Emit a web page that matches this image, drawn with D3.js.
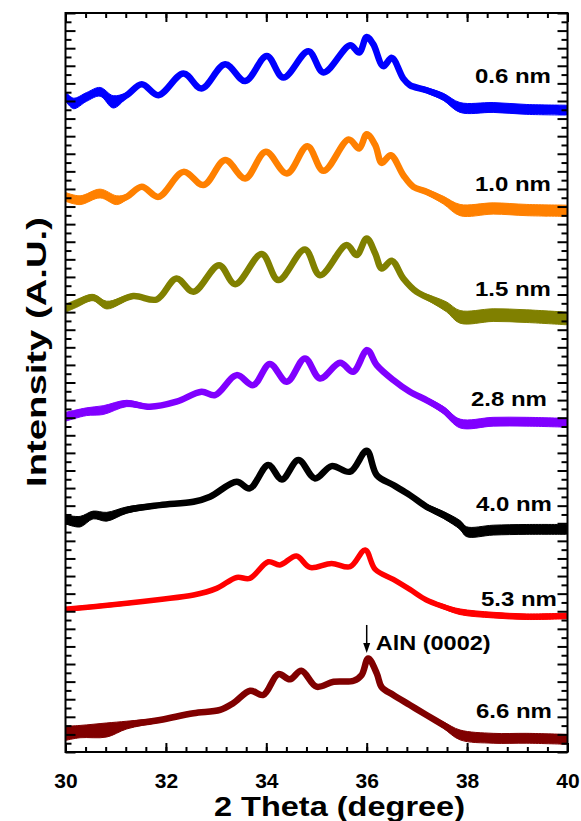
<!DOCTYPE html>
<html>
<head>
<meta charset="utf-8">
<script src="https://cdn.jsdelivr.net/npm/d3@7"></script>
<style>
  html, body { margin: 0; padding: 0; background: #fff; }
  svg text { font-family: "Liberation Sans", Arial, sans-serif; font-weight: bold; fill: #000; }
</style>
</head>
<body>
<div id="chart"></div>
<script>
// XRD scans, each point is [2theta, intensity (A.U., stacked), noise half-width]
const thicknesses = ["0.6 nm", "1.0 nm", "1.5 nm", "2.8 nm", "4.0 nm", "5.3 nm", "6.6 nm"];
const colors = ["#0000ff", "#ff8000", "#808000", "#8000ff", "#000000", "#ff0000", "#800000"];

const scan06 = [
  [30.0, 37.27, 0.25], [30.16, 36.86, 0.3], [30.42, 37.23, 0.25], [30.69, 37.52, 0.25], [30.95, 36.95, 0.35],
  [31.22, 37.33, 0.15], [31.52, 37.95, 0.05], [31.85, 37.33, 0.05], [32.35, 38.56, 0], [32.71, 37.71, 0],
  [33.18, 39.09, 0], [33.58, 38.13, 0], [34.01, 39.55, 0], [34.34, 38.33, 0], [34.84, 39.83, 0],
  [35.14, 38.62, 0], [35.67, 40.17, 0], [35.85, 39.75, 0], [36.0, 40.64, 0.05], [36.13, 40.23, 0],
  [36.33, 38.98, 0], [36.5, 39.45, 0], [36.73, 38.27, 0.05], [36.86, 37.9, 0.1], [37.19, 37.61, 0.15],
  [37.53, 37.23, 0.2], [37.86, 36.63, 0.28], [38.52, 36.63, 0.28], [39.19, 36.52, 0.28], [39.98, 36.48, 0.28]
];
const scan10 = [
  [30.0, 31.55, 0.25], [30.29, 31.36, 0.25], [30.69, 31.74, 0.25], [31.02, 31.36, 0.25], [31.22, 31.55, 0.15],
  [31.52, 32.12, 0.05], [31.85, 31.55, 0.05], [32.35, 32.97, 0], [32.75, 32.22, 0], [33.18, 33.64, 0],
  [33.58, 32.6, 0], [33.99, 34.11, 0], [34.41, 32.88, 0], [34.82, 34.43, 0], [35.14, 33.03, 0],
  [35.64, 34.81, 0], [35.85, 34.3, 0], [36.0, 35.11, 0.05], [36.17, 34.49, 0], [36.3, 33.48, 0],
  [36.48, 33.92, 0], [36.73, 32.78, 0.05], [36.93, 32.12, 0.1], [37.19, 31.84, 0.15], [37.53, 31.36, 0.22],
  [37.86, 30.8, 0.32], [38.52, 30.89, 0.32], [39.19, 30.8, 0.32], [39.98, 30.76, 0.32]
];
const scan15 = [
  [30.0, 25.21, 0.22], [30.22, 25.49, 0.22], [30.55, 25.83, 0.18], [30.82, 25.4, 0.22], [31.35, 25.91, 0.12],
  [31.82, 25.72, 0.08], [32.21, 26.91, 0], [32.55, 26.16, 0], [33.06, 27.67, 0], [33.38, 26.59, 0],
  [33.91, 28.3, 0], [34.24, 26.82, 0], [34.77, 28.56, 0], [35.07, 27.1, 0], [35.6, 28.81, 0],
  [35.8, 28.24, 0], [36.0, 29.19, 0.05], [36.17, 28.33, 0], [36.3, 27.48, 0], [36.5, 27.92, 0],
  [36.73, 26.91, 0.05], [36.99, 26.16, 0.1], [37.33, 25.68, 0.2], [37.59, 25.3, 0.28], [37.86, 24.73, 0.36],
  [38.52, 24.83, 0.36], [39.19, 24.77, 0.36], [39.98, 24.64, 0.36]
];
const scan28 = [
  [30.0, 19.05, 0.25], [30.42, 19.34, 0.22], [30.75, 19.43, 0.25], [31.22, 19.81, 0.18], [31.68, 19.62, 0.12],
  [32.21, 19.91, 0.08], [32.71, 20.47, 0.05], [32.98, 20.28, 0], [33.41, 21.42, 0], [33.74, 20.85, 0],
  [34.07, 22.05, 0], [34.41, 21.04, 0], [34.77, 22.37, 0], [35.07, 21.23, 0], [35.47, 22.12, 0],
  [35.73, 21.61, 0], [36.01, 22.84, 0.05], [36.2, 21.99, 0], [36.53, 21.14, 0.05], [36.86, 20.47, 0.1],
  [37.19, 20.0, 0.15], [37.53, 19.43, 0.2], [37.86, 18.67, 0.25], [38.52, 18.77, 0.25], [39.19, 18.77, 0.25],
  [39.98, 18.71, 0.25]
];
const scan40 = [
  [30.0, 13.22, 0.25], [30.29, 13.09, 0.3], [30.55, 13.47, 0.22], [30.82, 13.37, 0.25], [31.22, 13.75, 0.18],
  [31.88, 14.03, 0.12], [32.55, 14.22, 0.08], [32.88, 14.51, 0.05], [33.41, 15.36, 0], [33.67, 14.98, 0],
  [34.04, 16.31, 0], [34.31, 15.49, 0], [34.64, 16.59, 0], [34.97, 15.55, 0], [35.3, 16.25, 0],
  [35.67, 15.93, 0], [36.0, 17.12, 0.05], [36.2, 15.74, 0], [36.53, 15.17, 0.05], [36.86, 14.6, 0.1],
  [37.19, 13.94, 0.15], [37.53, 13.47, 0.2], [37.86, 12.9, 0.25], [37.99, 12.52, 0.28], [38.52, 12.61, 0.28],
  [39.19, 12.65, 0.28], [39.98, 12.65, 0.28]
];
const scan53 = [
  [30.0, 8.11, 0.1], [30.55, 8.26, 0.1], [31.22, 8.45, 0.1], [31.88, 8.67, 0.05], [32.55, 8.92, 0.05],
  [33.01, 9.3, 0], [33.41, 9.92, 0], [33.67, 9.87, 0], [34.04, 10.81, 0], [34.27, 10.63, 0],
  [34.6, 11.14, 0], [34.87, 10.49, 0], [35.3, 10.72, 0], [35.67, 10.53, 0], [35.97, 11.48, 0],
  [36.17, 10.38, 0], [36.53, 9.81, 0.05], [36.86, 9.24, 0.05], [37.19, 8.64, 0.1], [37.53, 8.26, 0.12],
  [37.86, 7.97, 0.16], [38.52, 7.78, 0.16], [39.19, 7.69, 0.16], [39.98, 7.73, 0.16]
];
const scan66 = [
  [30.0, 1.06, 0.4], [30.29, 1.16, 0.35], [30.82, 1.25, 0.4], [31.22, 1.53, 0.22], [31.88, 1.82, 0.12],
  [32.55, 2.2, 0.08], [33.08, 2.39, 0.05], [33.34, 2.77, 0], [33.68, 3.48, 0], [33.94, 3.24, 0],
  [34.24, 4.43, 0], [34.47, 4.13, 0], [34.7, 4.62, 0], [35.0, 3.71, 0], [35.34, 3.99, 0],
  [35.74, 4.05, 0], [35.9, 4.38, 0], [36.03, 5.32, 0], [36.2, 4.47, 0], [36.3, 3.68, 0],
  [36.53, 3.24, 0.05], [36.86, 2.67, 0.05], [37.19, 2.1, 0.1], [37.53, 1.53, 0.18], [37.86, 0.97, 0.28],
  [38.52, 0.78, 0.28], [39.19, 0.78, 0.28], [39.98, 0.72, 0.28]
];
const scans = [scan06, scan10, scan15, scan28, scan40, scan53, scan66];

// label anchor: [right edge 2theta, baseline intensity]
const labelPos = [[39.67, 38.04], [39.67, 31.9], [39.67, 25.94], [39.59, 19.69], [39.69, 13.72], [39.79, 8.32], [39.69, 1.96]];
const peak = { theta: 36.0, label: "AlN (0002)", top: 7.22, bottom: 5.63, base: 5.77 };

const xMajor = [30, 32, 34, 36, 38, 40];
const xMinor = d3.range(30, 40.01, 0.4);
const yMajor = d3.range(0, 42.01, 1);
const yMinor = d3.range(0.5, 42, 1);

const W = 581, H = 821;
const svg = d3.select("#chart").append("svg")
    .attr("width", W)
    .attr("height", H);

const x = d3.scaleLinear().domain([30, 40]).range([65.5, 567.5]);
const y = d3.scaleLinear().domain([0, 42]).range([752, 13]);

svg.append("defs").append("clipPath").attr("id", "plot")
  .append("rect")
    .attr("x", x(30)).attr("y", y(42))
    .attr("width", x(40) - x(30)).attr("height", y(0) - y(42));

const plot = svg.append("g").attr("clip-path", "url(#plot)");

const line = d3.line()
    .x(d => x(d[0]))
    .y(d => y(d[1]))
    .curve(d3.curveCatmullRom.alpha(0.5));

const band = d3.area()
    .x(d => x(d[0]))
    .y0(d => y(d[1] - d[2]))
    .y1(d => y(d[1] + d[2]))
    .curve(d3.curveCatmullRom.alpha(0.5));

scans.forEach((s, i) => {
    plot.append("path")
        .attr("d", band(s))
        .attr("fill", colors[i])
        .attr("stroke", colors[i])
        .attr("stroke-width", 1);
    plot.append("path")
        .attr("d", line(s))
        .attr("fill", "none")
        .attr("stroke", colors[i])
        .attr("stroke-width", i === 5 ? 5.5 : 6.5)
        .attr("stroke-linejoin", "round");
});

// --- Axes (ticks inward on all four sides) ---
function styleAxis(g) {
    g.select(".domain").remove();
    g.selectAll(".tick line").attr("stroke", "#000").attr("stroke-width", 2);
}

svg.append("g").attr("transform", `translate(0,${y(0)})`)
    .call(d3.axisBottom(x).tickValues(xMinor).tickSize(-5).tickFormat(""))
    .call(styleAxis);
svg.append("g").attr("transform", `translate(0,${y(0)})`)
    .call(d3.axisBottom(x).tickValues(xMajor).tickSize(-9).tickPadding(21).tickFormat(d3.format("d")))
    .call(styleAxis)
    .call(g => g.selectAll("text").attr("font-size", 21).attr("font-family", "Liberation Sans, Arial, sans-serif").attr("font-weight", "bold"));

svg.append("g").attr("transform", `translate(0,${y(42)})`)
    .call(d3.axisTop(x).tickValues(xMinor).tickSize(-5).tickFormat(""))
    .call(styleAxis);
svg.append("g").attr("transform", `translate(0,${y(42)})`)
    .call(d3.axisTop(x).tickValues(xMajor).tickSize(-9).tickFormat(""))
    .call(styleAxis);

svg.append("g").attr("transform", `translate(${x(30)},0)`)
    .call(d3.axisLeft(y).tickValues(yMajor).tickSize(-10).tickFormat(""))
    .call(styleAxis);
svg.append("g").attr("transform", `translate(${x(30)},0)`)
    .call(d3.axisLeft(y).tickValues(yMinor).tickSize(-6).tickFormat(""))
    .call(styleAxis);
svg.append("g").attr("transform", `translate(${x(40)},0)`)
    .call(d3.axisRight(y).tickValues(yMajor).tickSize(-10).tickFormat(""))
    .call(styleAxis);
svg.append("g").attr("transform", `translate(${x(40)},0)`)
    .call(d3.axisRight(y).tickValues(yMinor).tickSize(-6).tickFormat(""))
    .call(styleAxis);

// frame
svg.append("rect")
    .attr("x", x(30)).attr("y", y(42))
    .attr("width", x(40) - x(30)).attr("height", y(0) - y(42))
    .attr("fill", "none")
    .attr("stroke", "#000")
    .attr("stroke-width", 2);

// curve labels
thicknesses.forEach((t, i) => {
    svg.append("text")
        .attr("x", x(labelPos[i][0]))
        .attr("y", y(labelPos[i][1]))
        .attr("text-anchor", "end")
        .attr("font-size", 21)
        .attr("textLength", 76)
        .attr("lengthAdjust", "spacingAndGlyphs")
        .text(t);
});

// peak marker
svg.append("line")
    .attr("x1", x(peak.theta)).attr("x2", x(peak.theta))
    .attr("y1", y(peak.top)).attr("y2", y(peak.bottom) - 4)
    .attr("stroke", "#000")
    .attr("stroke-width", 1.5);
svg.append("path")
    .attr("d", `M${x(peak.theta) - 3.5},${y(peak.bottom) - 10} L${x(peak.theta)},${y(peak.bottom)} L${x(peak.theta) + 3.5},${y(peak.bottom) - 10} Z`)
    .attr("fill", "#000");
svg.append("text")
    .attr("x", x(peak.theta) + 9)
    .attr("y", y(peak.base))
    .attr("font-size", 21)
    .attr("textLength", 115)
    .attr("lengthAdjust", "spacingAndGlyphs")
    .text(peak.label);

// axis titles
svg.append("text")
    .attr("x", 339.5)
    .attr("y", 816)
    .attr("text-anchor", "middle")
    .attr("font-size", 28)
    .attr("textLength", 251)
    .attr("lengthAdjust", "spacingAndGlyphs")
    .text("2 Theta (degree)");

svg.append("text")
    .attr("transform", `translate(46,352) rotate(-90)`)
    .attr("text-anchor", "middle")
    .attr("font-size", 27)
    .attr("textLength", 270)
    .attr("lengthAdjust", "spacingAndGlyphs")
    .text("Intensity (A.U.)");
</script>
</body>
</html>
